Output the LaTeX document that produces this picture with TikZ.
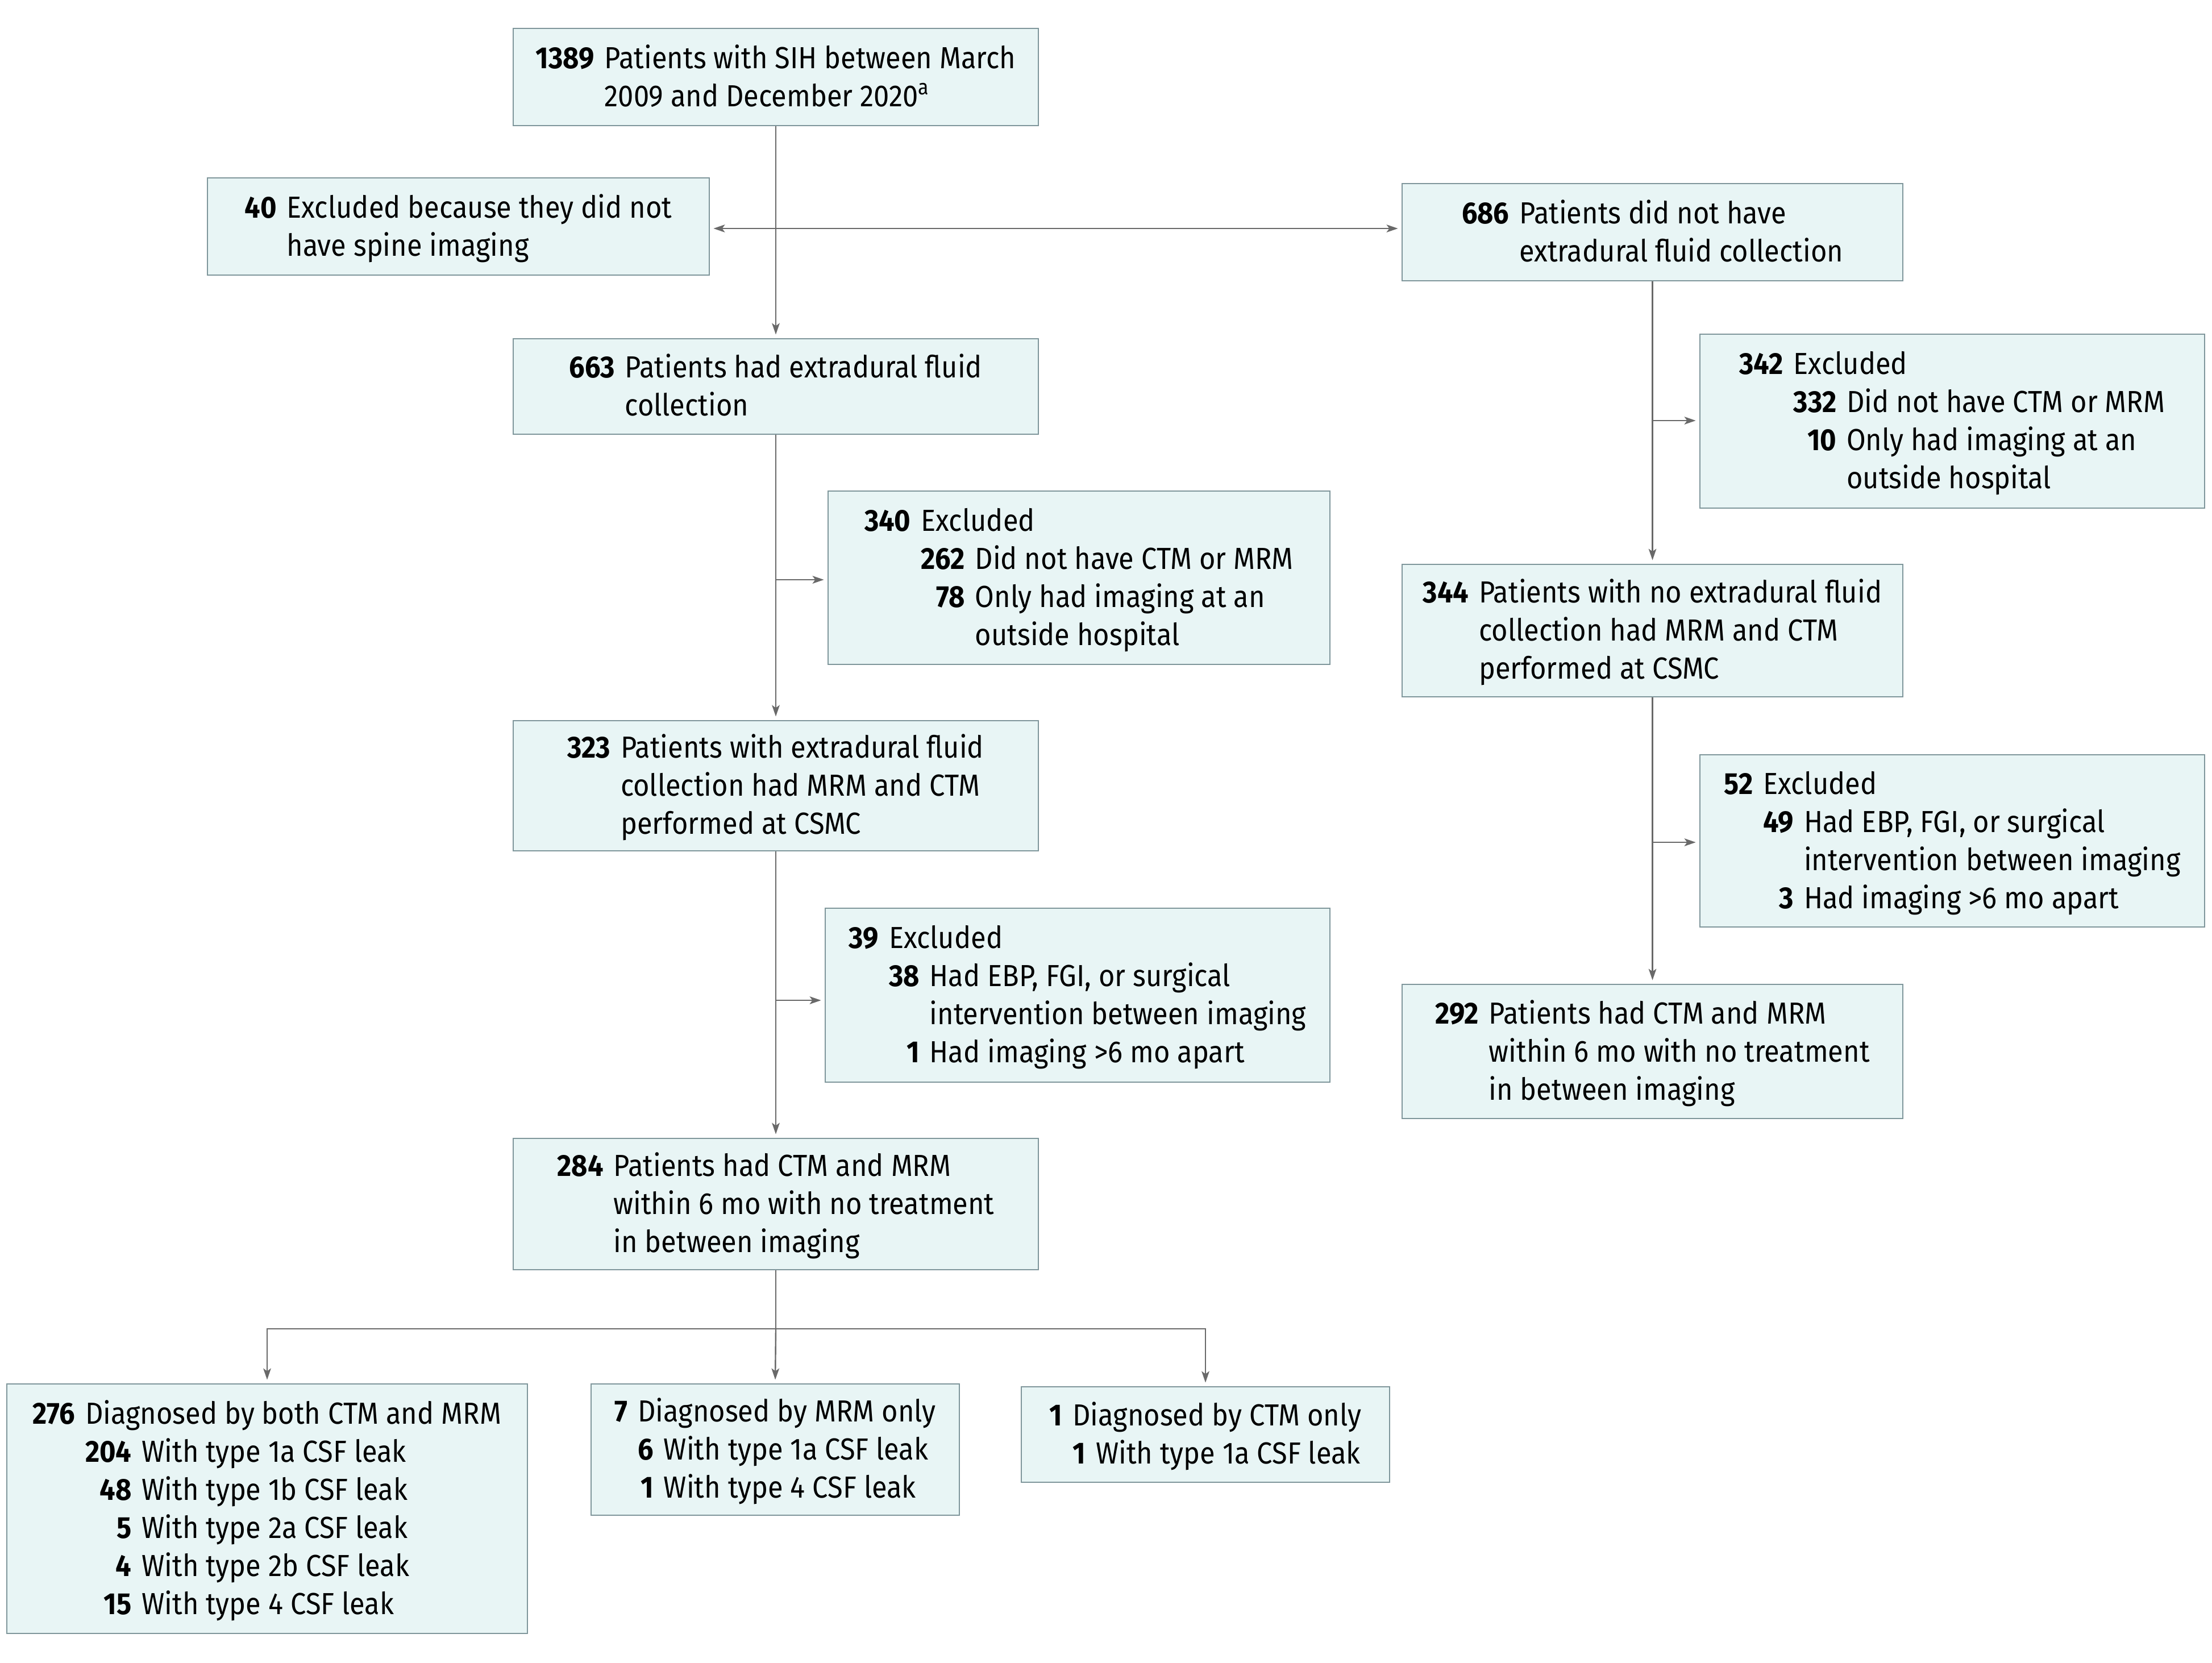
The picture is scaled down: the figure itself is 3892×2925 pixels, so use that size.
\documentclass[tikz,border=0pt]{standalone}
\usepackage{fontspec}
\setmainfont{Fira Sans}[FakeStretch=0.91]
\usetikzlibrary{arrows.meta}
\definecolor{boxfill}{RGB}{232,245,245}
\definecolor{boxline}{RGB}{127,150,155}
\definecolor{conncol}{RGB}{105,105,105}
\newcommand{\nm}[1]{\textbf{#1}}
\newcommand{\mc}[1]{\multicolumn{2}{@{}l@{}}{#1}}
\newcommand{\lowr}[1]{\raisebox{-1.2pt}[\height][\depth]{#1}}
\newenvironment{tone}{\begin{tabular}{@{}r@{\hspace{4.5pt}}l@{}}}{\end{tabular}}
\newenvironment{ttwo}{\begin{tabular}{@{}r@{\hspace{4.5pt}}r@{\hspace{4.5pt}}l@{}}}{\end{tabular}}
\begin{document}
\begin{tikzpicture}[x=0.25pt,y=-0.25pt,
  box/.style={draw=boxline, fill=boxfill, line width=0.7pt, inner sep=0pt, anchor=center,
    font=\fontsize{13.4}{16.75}\selectfont},
  conn/.style={draw=conncol, line width=0.6pt, -{Stealth[length=5pt,width=3.4pt,inset=1.2pt]}, shorten >=1.5pt},
  plain/.style={draw=conncol, line width=0.6pt}]
\useasboundingbox (0,0) rectangle (3892,2925);

\node[box, minimum width=231pt, minimum height=42.75pt] (b1) at (1365,135.5)
 {\lowr{\begin{tone}\nm{1389} & Patients with SIH between March\\ & 2009 and December 2020\textsuperscript{a}\end{tone}}};
\node[box, minimum width=220.75pt, minimum height=42.75pt] (b40) at (806.5,398.5)
 {\lowr{\begin{tone}\nm{40} & Excluded because they did not\\ & have spine imaging\end{tone}}};
\node[box, minimum width=220.25pt, minimum height=42.75pt] (b686) at (2907.5,408.5)
 {\lowr{\begin{tone}\nm{686} & Patients did not have\\ & extradural fluid collection\end{tone}}};
\node[box, minimum width=231pt, minimum height=42pt] (b663) at (1365,680)
 {\lowr{\begin{tone}\nm{663} & Patients had extradural fluid\\ & collection\end{tone}}};
\node[box, minimum width=222pt, minimum height=76.5pt] (b342) at (3435,741)
 {\lowr{\begin{ttwo}\nm{342} & \mc{Excluded}\\ & \nm{332} & Did not have CTM or MRM\\ & \nm{10} & Only had imaging at an\\ & & outside hospital\end{ttwo}}};
\node[box, minimum width=220.75pt, minimum height=76.25pt] (b340) at (1898.5,1016.5)
 {\lowr{\begin{ttwo}\nm{340} & \mc{Excluded}\\ & \nm{262} & Did not have CTM or MRM\\ & \nm{78} & Only had imaging at an\\ & & outside hospital\end{ttwo}}};
\node[box, minimum width=220.25pt, minimum height=58.25pt] (b344) at (2907.5,1109.5)
 {\lowr{\begin{tone}\nm{344} & Patients with no extradural fluid\\ & collection had MRM and CTM\\ & performed at CSMC\end{tone}}};
\node[box, minimum width=231pt, minimum height=57.25pt] (b323) at (1365,1382.5)
 {\lowr{\begin{tone}\nm{323} & Patients with extradural fluid\\ & collection had MRM and CTM\\ & performed at CSMC\end{tone}}};
\node[box, minimum width=222pt, minimum height=75.75pt] (b52) at (3435,1479.5)
 {\lowr{\begin{ttwo}\nm{52} & \mc{Excluded}\\ & \nm{49} & Had EBP, FGI, or surgical\\ & & intervention between imaging\\ & \nm{3} & Had imaging >6 mo apart\end{ttwo}}};
\node[box, minimum width=222pt, minimum height=76.5pt] (b39) at (1896,1751)
 {\lowr{\begin{ttwo}\nm{39} & \mc{Excluded}\\ & \nm{38} & Had EBP, FGI, or surgical\\ & & intervention between imaging\\ & \nm{1} & Had imaging >6 mo apart\end{ttwo}}};
\node[box, minimum width=220.25pt, minimum height=59pt] (b292) at (2907.5,1850)
 {\lowr{\begin{tone}\nm{292} & Patients had CTM and MRM\\ & within 6 mo with no treatment\\ & in between imaging\end{tone}}};
\node[box, minimum width=231pt, minimum height=57.75pt] (b284) at (1365,2118.5)
 {\lowr{\begin{tone}\nm{284} & Patients had CTM and MRM\\ & within 6 mo with no treatment\\ & in between imaging\end{tone}}};
\node[box, minimum width=229pt, minimum height=109.75pt] (b276) at (470,2654.5)
 {\lowr{\begin{ttwo}\nm{276} & \mc{Diagnosed by both CTM and MRM}\\ & \nm{204} & With type 1a CSF leak\\ & \nm{48} & With type 1b CSF leak\\ & \nm{5} & With type 2a CSF leak\\ & \nm{4} & With type 2b CSF leak\\ & \nm{15} & With type 4 CSF leak\end{ttwo}}};
\node[box, minimum width=162pt, minimum height=57.75pt] (b7) at (1364,2550.5)
 {\lowr{\begin{ttwo}\nm{7} & \mc{Diagnosed by MRM only}\\ & \nm{6} & With type 1a CSF leak\\ & \nm{1} & With type 4 CSF leak\end{ttwo}}};
\node[box, minimum width=162pt, minimum height=42pt] (b1c) at (2121,2524)
 {\lowr{\begin{ttwo}\nm{1} & \mc{Diagnosed by CTM only}\\ & \nm{1} & With type 1a CSF leak\end{ttwo}}};

% connectors
\coordinate (j1) at (1365,402);
\coordinate (j2) at (1365,1020);
\coordinate (j3) at (1365,1760);
\coordinate (j4) at (2907.5,740);
\coordinate (j5) at (2907.5,1482);
\coordinate (s) at (1365,2338);

\draw[conn] (b1.south) -- (b663.north);
\draw[conn, {Stealth[length=5pt,width=3.4pt,inset=1.2pt]}-{Stealth[length=5pt,width=3.4pt,inset=1.2pt]}, shorten <=1.5pt] (b40.east |- j1) -- (b686.west |- j1);
\draw[conn] (b663.south) -- (b323.north);
\draw[conn] (j2) -- (b340.west |- j2);
\draw[conn] (b323.south) -- (b284.north);
\draw[conn] (j3) -- (b39.west |- j3);
\draw[conn] (b686.south) -- (b344.north);
\draw[conn] (j4) -- (b342.west |- j4);
\draw[conn] (b344.south) -- (b292.north);
\draw[conn] (j5) -- (b52.west |- j5);
\draw[plain] (b284.south) -- (s);
\draw[conn] (s) -- (b7.north);
\draw[conn] (s) -| (b276.north);
\draw[conn] (s) -| (b1c.north);
\end{tikzpicture}
\end{document}
